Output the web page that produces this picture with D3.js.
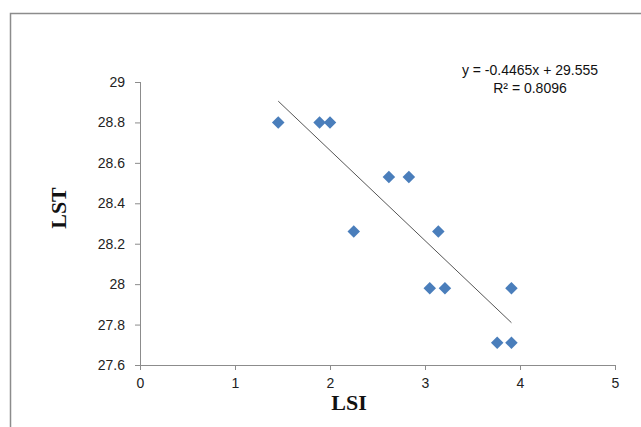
<!DOCTYPE html>
<html>
<head>
<meta charset="utf-8">
<script src="https://cdn.jsdelivr.net/npm/d3@7"></script>
<style>
  html, body { margin: 0; padding: 0; background: #fff; }
  svg { display: block; }
</style>
</head>
<body>
<svg id="chart" width="641" height="427"></svg>
<script>
// Data
const lsi = [1.455, 1.89, 2.0, 2.62, 2.83, 2.25, 3.14, 3.05, 3.21, 3.91, 3.76, 3.91];
const lst = [28.80, 28.80, 28.80, 28.53, 28.53, 28.26, 28.26, 27.98, 27.98, 27.98, 27.71, 27.71];
const xTicks = [0, 1, 2, 3, 4, 5];
const yTicks = [27.6, 27.8, 28, 28.2, 28.4, 28.6, 28.8, 29];
const slope = -0.4465;
const intercept = 29.555;
const equationLines = ["y = -0.4465x + 29.555", "R² = 0.8096"];
const xTitle = "LSI";
const yTitle = "LST";

const svg = d3.select("#chart");
const W = 641, H = 427;

// outer chart frame (extends past the right and bottom edges)
svg.append("rect")
  .attr("x", 10.5).attr("y", 13.5)
  .attr("width", W + 20).attr("height", H + 20)
  .attr("fill", "none").attr("stroke", "#8c8c8c").attr("stroke-width", 1.5);

const x = d3.scaleLinear().domain([0, 5]).range([140, 615]);
const y = d3.scaleLinear().domain([27.6, 29]).range([365, 82]);

const tickFont = "Liberation Sans, Arial, sans-serif";

// y axis
const yAxis = svg.append("g")
  .attr("transform", `translate(${x(0)},0)`)
  .call(d3.axisLeft(y).tickValues(yTicks).tickSize(5).tickPadding(10)
    .tickFormat(d => d3.format("")(+d.toFixed(1))));
// x axis
const xAxis = svg.append("g")
  .attr("transform", `translate(0,${y(27.6)})`)
  .call(d3.axisBottom(x).tickValues(xTicks).tickSize(5).tickPadding(8).tickFormat(d3.format("d")));

[yAxis, xAxis].forEach(g => {
  g.select(".domain").attr("stroke", "#8c8c8c").attr("stroke-width", 1);
  g.selectAll(".tick line").attr("stroke", "#8c8c8c");
  g.selectAll(".tick text")
    .attr("fill", "#222")
    .style("font-family", tickFont)
    .style("font-size", "14px");
});
xAxis.select(".domain").attr("d", `M${x(0)},0.5H${x(5)}`);
yAxis.select(".domain").attr("d", `M0.5,${y(29)}V${y(27.6)}`);

// trendline from min to max x
const xExt = d3.extent(lsi);
svg.append("line")
  .attr("x1", x(xExt[0])).attr("y1", y(slope * xExt[0] + intercept))
  .attr("x2", x(xExt[1])).attr("y2", y(slope * xExt[1] + intercept))
  .attr("stroke", "#555").attr("stroke-width", 1);

// diamond markers
const diamond = d3.symbol().type(d3.symbolDiamond2).size(100);
svg.append("g").selectAll("path")
  .data(lsi.map((v, i) => [v, lst[i]]))
  .join("path")
  .attr("d", diamond)
  .attr("transform", d => `translate(${x(d[0])},${y(d[1])})`)
  .attr("fill", "#4A7EBB");

// equation
svg.append("g").selectAll("text")
  .data(equationLines)
  .join("text")
  .attr("x", 530)
  .attr("y", (d, i) => 75 + i * 18)
  .attr("text-anchor", "middle")
  .attr("fill", "#111")
  .style("font-family", tickFont)
  .style("font-size", "14px")
  .text(d => d);

// axis titles
svg.append("text")
  .attr("x", 349).attr("y", 410)
  .attr("text-anchor", "middle")
  .style("font-family", "Liberation Serif, 'Times New Roman', serif")
  .style("font-weight", "bold")
  .style("font-size", "22px")
  .attr("fill", "#111")
  .text(xTitle);

svg.append("text")
  .attr("transform", "translate(66,208) rotate(-90)")
  .attr("text-anchor", "middle")
  .style("font-family", "Liberation Serif, 'Times New Roman', serif")
  .style("font-weight", "bold")
  .style("font-size", "22px")
  .attr("fill", "#111")
  .text(yTitle);
</script>
</body>
</html>
